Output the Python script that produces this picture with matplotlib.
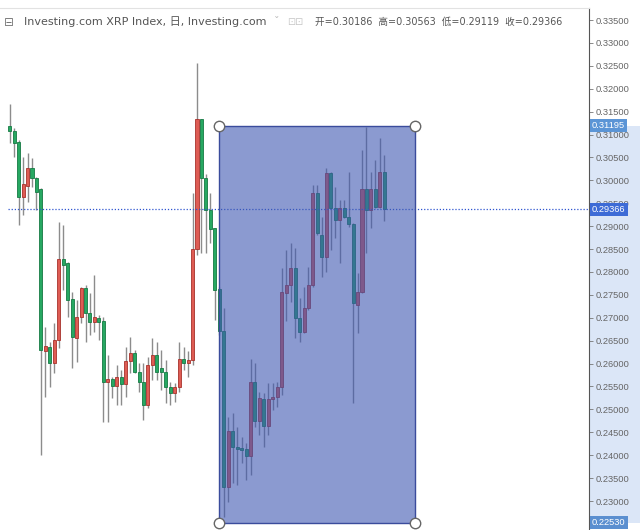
import numpy as np
import matplotlib.pyplot as plt
from matplotlib.patches import Rectangle
from matplotlib.transforms import blended_transform_factory

# daily XRP candles (red = up, green = down)
opens = [0.31186, 0.31084, 0.30844, 0.29636, 0.29877, 0.30270, 0.30051, 0.29811, 0.26274, 0.26362,
         0.26013, 0.26515, 0.28283, 0.28196, 0.27410, 0.26558, 0.27017, 0.27650, 0.27104, 0.26908,
         0.26995, 0.26930, 0.25598, 0.25664, 0.25511, 0.25707, 0.25554, 0.26056, 0.26231, 0.25816,
         0.25598, 0.25096, 0.25969, 0.26187, 0.25904, 0.25816, 0.25489, 0.25358, 0.25489, 0.26100,
         0.26013, 0.26078, 0.28501, 0.31339, 0.30051, 0.29353, 0.28960, 0.27628, 0.26711, 0.23306,
         0.24528, 0.24179, 0.24157, 0.24135, 0.23983, 0.25598, 0.24747, 0.25227, 0.24637, 0.25227,
         0.25270, 0.25489, 0.27541, 0.27716, 0.28087, 0.26995, 0.26689, 0.27213, 0.27716, 0.29724,
         0.28807, 0.28327, 0.30160, 0.29396, 0.29134, 0.29396, 0.29200, 0.29047, 0.27279, 0.27563,
         0.29811, 0.29353, 0.29811, 0.29418, 0.30186]
highs = [0.31667, 0.31143, 0.30881, 0.30510, 0.30597, 0.30488, 0.30073, 0.29833, 0.26799, 0.26471,
         0.26886, 0.29091, 0.29025, 0.28218, 0.27563, 0.27388, 0.27672, 0.27716, 0.27541, 0.27934,
         0.27061, 0.27017, 0.26187, 0.25707, 0.25969, 0.25860, 0.26362, 0.26580, 0.26296, 0.26013,
         0.26013, 0.26144, 0.26558, 0.26471, 0.26296, 0.26078, 0.25598, 0.25576, 0.26471, 0.26362,
         0.26275, 0.29724, 0.32562, 0.31339, 0.30139, 0.29724, 0.28960, 0.27672, 0.27213, 0.24834,
         0.24921, 0.24616, 0.24397, 0.24266, 0.26100, 0.26013, 0.25380, 0.25358, 0.25576, 0.25576,
         0.25598, 0.28087, 0.28479, 0.28632, 0.28523, 0.27432, 0.27672, 0.28108, 0.29899, 0.29899,
         0.29200, 0.30270, 0.30182, 0.29855, 0.29571, 0.29571, 0.30182, 0.29069, 0.27977, 0.30662,
         0.31165, 0.30182, 0.30444, 0.30925, 0.30563]
lows = [0.30815, 0.30510, 0.29025, 0.29244, 0.29527, 0.29855, 0.29353, 0.24004, 0.25270, 0.25489,
        0.25794, 0.26340, 0.27606, 0.27017, 0.25904, 0.26035, 0.26886, 0.26471, 0.26624, 0.26689,
        0.26515, 0.24725, 0.24725, 0.25249, 0.25096, 0.25096, 0.25270, 0.25794, 0.25794, 0.25380,
        0.24768, 0.25030, 0.25642, 0.25642, 0.25423, 0.25139, 0.25096, 0.25161, 0.25380, 0.25860,
        0.25707, 0.25969, 0.28370, 0.28414, 0.28414, 0.28632, 0.26952, 0.26624, 0.22651, 0.22978,
        0.23393, 0.23349, 0.23830, 0.23459, 0.23568, 0.24616, 0.24441, 0.24179, 0.24441, 0.24987,
        0.25052, 0.25314, 0.26930, 0.27344, 0.26558, 0.26471, 0.26667, 0.27170, 0.27672, 0.28807,
        0.27890, 0.27999, 0.28479, 0.28741, 0.28196, 0.29178, 0.28982, 0.25139, 0.26667, 0.27541,
        0.28414, 0.28960, 0.29396, 0.29396, 0.29119]
closes = [0.31077, 0.30822, 0.29630, 0.29920, 0.30270, 0.30051, 0.29746, 0.26296, 0.26384, 0.26013,
          0.26515, 0.28283, 0.28152, 0.27388, 0.26580, 0.27017, 0.27650, 0.27104, 0.26908, 0.27017,
          0.26908, 0.25598, 0.25664, 0.25511, 0.25707, 0.25554, 0.26056, 0.26231, 0.25816, 0.25598,
          0.25096, 0.25969, 0.26187, 0.25816, 0.25816, 0.25489, 0.25358, 0.25489, 0.26100, 0.26013,
          0.26078, 0.28501, 0.31339, 0.30051, 0.29353, 0.28938, 0.27606, 0.26711, 0.23306, 0.24528,
          0.24179, 0.24135, 0.24114, 0.23983, 0.25598, 0.24747, 0.25249, 0.24637, 0.25227, 0.25270,
          0.25489, 0.27563, 0.27716, 0.28087, 0.26995, 0.26689, 0.27213, 0.27716, 0.29724, 0.28851,
          0.28327, 0.30160, 0.29396, 0.29134, 0.29396, 0.29200, 0.29047, 0.27323, 0.27563, 0.29811,
          0.29353, 0.29811, 0.29418, 0.30186, 0.29366]

y_ticks = np.arange(0.230, 0.3351, 0.005)
last_close = closes[-1]
box_top = 0.31195
box_bottom = 0.22530
box_left, box_right = 46.9, 90.9   # candle index units

fig = plt.figure(figsize=(6.4, 5.3), dpi=100)
ax = fig.add_axes([0, 0, 589 / 640, 1 - 8 / 530])

x = np.arange(len(opens))
o = np.array(opens)
h = np.array(highs)
l = np.array(lows)
c = np.array(closes)
up = c >= o
face = np.where(up, '#de5c54', '#27a862')
edge = np.where(up, '#a8322c', '#167a44')

ax.vlines(x, l, h, color='#8c8c8c', lw=1, zorder=2)
body = np.maximum(np.abs(c - o), 0.00012)
ax.bar(x, body, bottom=np.minimum(o, c), width=0.68, color=face,
       edgecolor=edge, linewidth=0.6, zorder=3)

# last price dotted line
ax.hlines(last_close, -0.4, 130, color='#2f55d0', lw=0.9, linestyles=(0, (1, 1.5)), zorder=4)

# drawn rectangle tool
ax.add_patch(Rectangle((box_left, box_bottom), box_right - box_left, box_top - box_bottom,
                       facecolor='#3e57b1', alpha=0.6, edgecolor='none', zorder=5))
ax.add_patch(Rectangle((box_left, box_bottom), box_right - box_left, box_top - box_bottom,
                       facecolor='none', edgecolor='#3a4c9c', lw=1, zorder=5))
ax.plot([box_left, box_right, box_left, box_right], [box_top, box_top, box_bottom, box_bottom],
        'o', ms=7.5, mfc='white', mec='#666666', mew=1, zorder=6, clip_on=False)

ax.set_xlim(-2.175, 129.9)
ax.set_ylim(0.22367, 0.33762)

for s in ['left', 'bottom']:
    ax.spines[s].set_visible(False)
ax.spines['top'].set_color('#e2e2e2')
ax.spines['top'].set_linewidth(0.8)
ax.spines['right'].set_color('#555555')
ax.spines['right'].set_linewidth(0.8)
ax.set_xticks([])
ax.yaxis.tick_right()
ax.set_yticks(y_ticks)
ax.set_yticklabels([f'{t:.5f}' for t in y_ticks], family='Liberation Sans')
ax.tick_params(axis='y', length=3, width=0.6, color='#777777', labelsize=6.7,
               labelcolor='#666666', pad=1.5)

# highlighted price range on the axis
band_tr = blended_transform_factory(fig.transFigure, ax.transData)
ax.add_patch(Rectangle((589 / 640, box_bottom), 51 / 640, box_top - box_bottom,
                       transform=band_tr, facecolor='#dbe6f7', edgecolor='none',
                       zorder=1, clip_on=False))

lab_tr = blended_transform_factory(ax.transAxes, ax.transData)
for val, col in [(box_top, '#5b95d6'), (last_close, '#3d6bd6'), (box_bottom, '#5b8fd0')]:
    ax.text(1.005, val, f'{val:.5f}', transform=lab_tr, ha='left', va='center',
            fontsize=6.7, family='Liberation Sans', color='white', zorder=8, clip_on=False,
            bbox=dict(boxstyle='square,pad=0.25', fc=col, ec='none'))

# header
fam = ['DejaVu Sans', 'Noto Sans CJK SC']
hy = 1 - 22 / 530
fig.text(4 / 640, hy, '⊟', fontsize=8.5, color='#777777', va='center', family=fam)
fig.text(24 / 640, hy, 'Investing.com XRP Index, 日, Investing.com', fontsize=8,
         color='#555555', va='center', family=fam)
fig.text(274 / 640, hy, 'ˇ', fontsize=8, color='#bbbbbb', va='center', family=fam)
fig.text(287 / 640, hy, '⊡⊡', fontsize=7, color='#c8c8c8', va='center', family=fam)
fig.text(315 / 640, hy, '开=0.30186  高=0.30563  低=0.29119  收=0.29366', fontsize=6.9,
         color='#555555', va='center', family=fam)

fig.savefig('out.png', dpi=100)
